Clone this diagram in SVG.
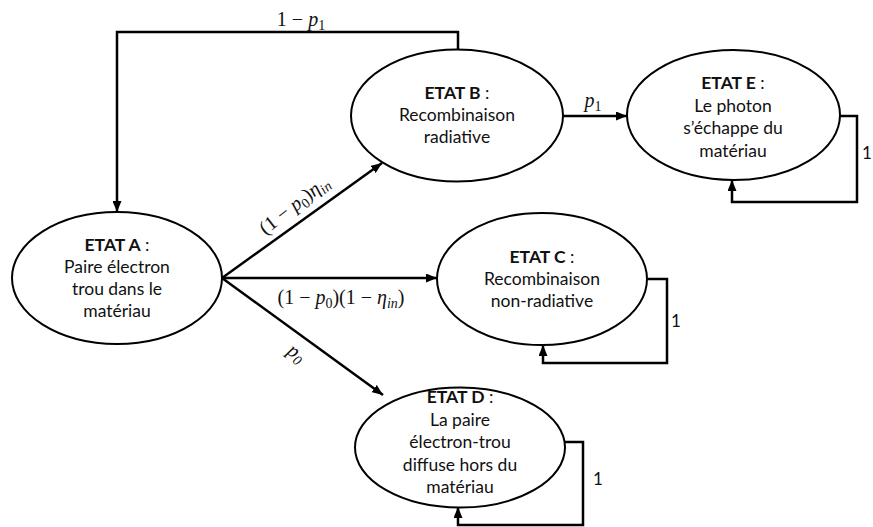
<svg xmlns="http://www.w3.org/2000/svg" width="873" height="527" viewBox="0 0 873 527">
<style>
.node ellipse{fill:#fff;stroke:#000;stroke-width:2}
.t{font-family:Lato,"Open Sans","Liberation Sans",sans-serif;font-size:17.5px;fill:#111;text-anchor:middle}
.b{font-weight:bold}
.m{font-family:"Liberation Serif","DejaVu Serif",serif;font-size:20px;fill:#111}
.i{font-style:italic}
.s{font-size:14px}
.c{fill:none;stroke:#000;stroke-width:2.5}
.n{font-family:Lato,"Liberation Sans",sans-serif;font-size:17px;fill:#111}
</style>
<defs>
<marker id="ah" markerUnits="userSpaceOnUse" markerWidth="11" markerHeight="9" refX="11" refY="4.5" orient="auto">
<path d="M0,0 L11,4.5 L0,9 z" fill="#000"/>
</marker>
</defs>
<g id="connectors">
<polyline class="c" points="458,49 458,32 117,32 117,212" marker-end="url(#ah)"/>
<line class="c" x1="222" y1="278" x2="382" y2="163" marker-end="url(#ah)"/>
<line class="c" x1="222" y1="278" x2="437" y2="278" marker-end="url(#ah)"/>
<line class="c" x1="222" y1="278" x2="383" y2="395" marker-end="url(#ah)"/>
<line class="c" x1="563" y1="116" x2="627" y2="116" marker-end="url(#ah)"/>
<polyline class="c" points="840,116 857,116 857,202 732,202 732,180" marker-end="url(#ah)"/>
<polyline class="c" points="648,279 667,279 667,363 543,363 543,345" marker-end="url(#ah)"/>
<polyline class="c" points="565,442 583,442 583,525 458,525 458,507" marker-end="url(#ah)"/>
<text class="m" x="301" y="26" text-anchor="middle">1 − <tspan class="i">p</tspan><tspan class="s" dy="4">1</tspan></text>
<text class="m" transform="translate(298,210) rotate(-38)" text-anchor="middle">(1 − <tspan class="i">p</tspan><tspan class="s" dy="4">0</tspan><tspan dy="-4">)</tspan><tspan class="i">η</tspan><tspan class="s i" dy="4">in</tspan></text>
<text class="m" x="341" y="304" text-anchor="middle">(1 − <tspan class="i">p</tspan><tspan class="s" dy="4">0</tspan><tspan dy="-4">)(1 − </tspan><tspan class="i">η</tspan><tspan class="s i" dy="4">in</tspan><tspan dy="-4">)</tspan></text>
<text class="m" x="593" y="107" text-anchor="middle"><tspan class="i">p</tspan><tspan class="s" dy="4">1</tspan></text>
<text class="m" transform="translate(293,358) rotate(36)" text-anchor="middle"><tspan class="i">p</tspan><tspan class="s i" dy="4">0</tspan></text>
<text class="n" x="671" y="327">1</text>
<text class="n" x="593" y="485">1</text>
<text class="n" x="862" y="159">1</text>
</g>
<g id="A" class="node">
<ellipse cx="117" cy="278" rx="105" ry="66"/>
<text class="t" x="117" y="251"><tspan class="b">ETAT A</tspan> :</text>
<text class="t" x="117" y="273">Paire électron</text>
<text class="t" x="117" y="295">trou dans le</text>
<text class="t" x="117" y="317">matériau</text>
</g>
<g id="B" class="node">
<ellipse cx="457" cy="115.5" rx="106" ry="66"/>
<text class="t" x="457" y="99"><tspan class="b">ETAT B</tspan> :</text>
<text class="t" x="457" y="121">Recombinaison</text>
<text class="t" x="457" y="143">radiative</text>
</g>
<g id="C" class="node">
<ellipse cx="542" cy="279" rx="105" ry="66"/>
<text class="t" x="542" y="263"><tspan class="b">ETAT C</tspan> :</text>
<text class="t" x="542" y="285">Recombinaison</text>
<text class="t" x="542" y="307">non-radiative</text>
</g>
<g id="D" class="node">
<ellipse cx="460" cy="447.5" rx="105" ry="60"/>
<text class="t" x="460" y="403"><tspan class="b">ETAT D</tspan> :</text>
<text class="t" x="460" y="425.5">La paire</text>
<text class="t" x="460" y="448">électron-trou</text>
<text class="t" x="460" y="470.5">diffuse hors du</text>
<text class="t" x="460" y="493">matériau</text>
</g>
<g id="E" class="node">
<ellipse cx="733.5" cy="115" rx="106.5" ry="65"/>
<text class="t" x="733" y="89"><tspan class="b">ETAT E</tspan> :</text>
<text class="t" x="733" y="111.5">Le photon</text>
<text class="t" x="733" y="134">s’échappe du</text>
<text class="t" x="733" y="156.5">matériau</text>
</g>
</svg>
